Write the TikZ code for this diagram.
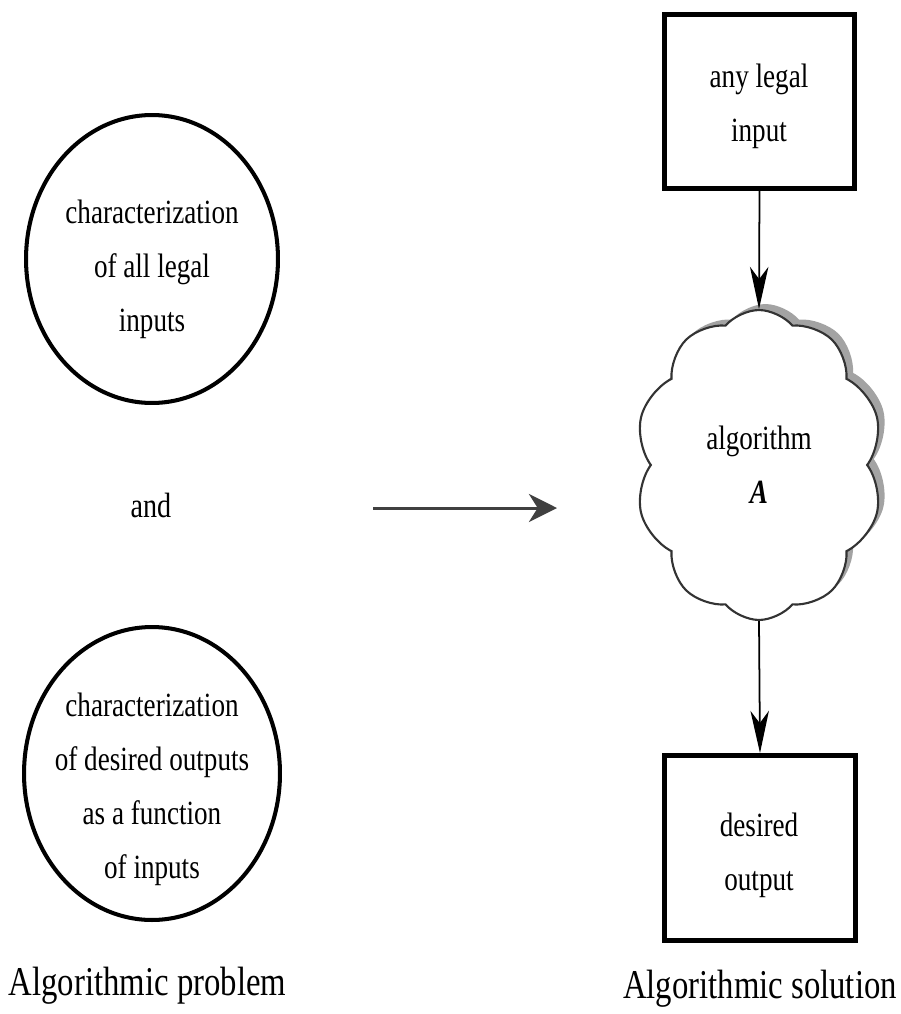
\documentclass[tikz,border=0pt]{standalone}
\usepackage{fontspec}
\setmainfont{Liberation Serif}[FakeStretch=0.8]
\usetikzlibrary{shapes.geometric,shapes.symbols,arrows.meta,shadows}
\begin{document}
\begin{tikzpicture}[x=0.02cm,y=-0.02cm,
  ovalbox/.style={ellipse, draw, line width=2.3pt, inner sep=0pt},
  sqbox/.style={rectangle, draw, line width=2.85pt, inner sep=0pt, minimum width=3.8cm},
  bodytext/.style={align=center, inner sep=0pt, font=\fontsize{19.3pt}{30.7pt}\selectfont},
  caption/.style={anchor=base, inner sep=0pt, font=\fontsize{23.3pt}{28pt}\selectfont},
  vtip/.style={-{Stealth[length=24pt, width=10.5pt, inset=7pt]}, line width=1pt},
  htip/.style={-{Stealth[length=16pt, width=16pt, inset=5pt]}, line width=1.7pt, draw=black!75}
]
\useasboundingbox (0,0) rectangle (900,1014);

% left column
\node[ovalbox, minimum width=5.04cm, minimum height=5.76cm] (e1) at (152,259) {};
\node[bodytext] (e1t) at (152,269) {characterization\\of all legal\\inputs};
\node[anchor=base, inner sep=0pt, font=\fontsize{20pt}{24pt}\selectfont] (and) at (151,517) {and};
\node[ovalbox, minimum width=5.12cm, minimum height=5.86cm] (e2) at (152,773.5) {};
\node[bodytext] (e2t) at (152,789) {characterization\\of desired outputs\\as a function\\of inputs};
\node[caption] (lp) at (147.5,995) {Algorithmic problem};

% middle arrow
\coordinate (ha) at (373,508);
\coordinate (hb) at (557,508);
\draw[htip] (ha) -- (hb);

% right column
\node[sqbox, minimum height=3.48cm] (b1) at (759.5,101.5) {};
\node[bodytext] (b1t) at (759,106) {any legal\\input};
\node[cloud, cloud puffs=10, cloud puff arc=100, aspect=0.8, draw=black!80, line width=1.2pt,
      fill=white, minimum width=4.96cm, minimum height=6.2cm, inner sep=0pt,
      drop shadow={shadow xshift=0.13cm, shadow yshift=0.12cm, fill=black!45, opacity=0.8},
      bodytext] (cl) at (759,465) {algorithm\\\textbf{\textit{A}}};
\node[sqbox, minimum width=3.82cm, minimum height=3.7cm] (b2) at (760,848) {};
\node[bodytext] (b2t) at (759,855) {desired\\output};
\node[caption] (ls) at (760,998) {Algorithmic solution};

\draw[vtip] (b1.south) -- (cl.north);
\draw[vtip] (cl.south) -- (b2.north);
\end{tikzpicture}
\end{document}
